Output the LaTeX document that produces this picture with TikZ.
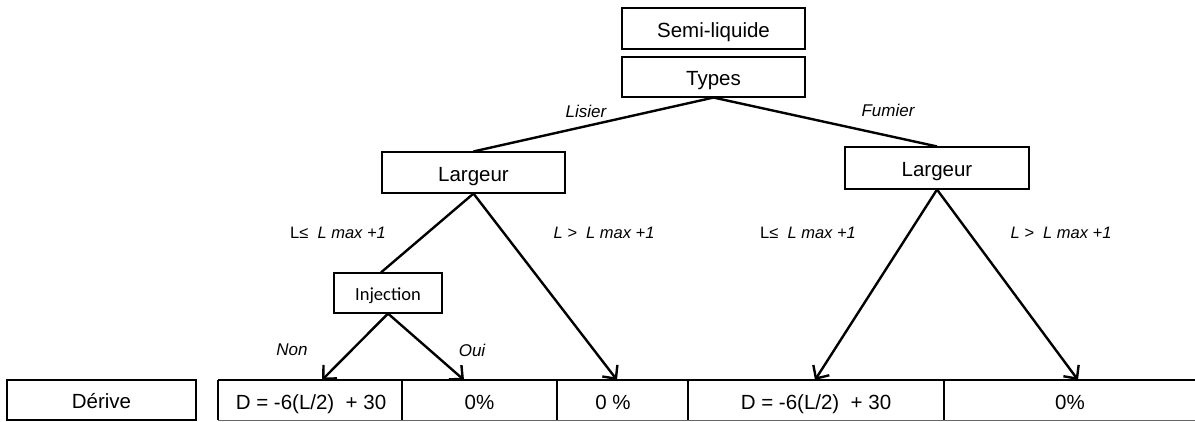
\documentclass[tikz,border=0pt]{standalone}
\usepackage{fontspec}
\setmainfont{Liberation Sans}
\newfontfamily\carl{Carlito}
\usetikzlibrary{arrows.meta,calc}
\begin{document}
\begin{tikzpicture}[x=1pt,y=-1pt,
  box/.style={draw,line width=1.1pt,inner sep=0pt,text height=17.5pt,text depth=0pt,font=\fontsize{20.5}{24}\selectfont},
  lbl/.style={inner sep=0pt,font=\fontsize{17}{20}\selectfont\itshape},
  clbl/.style={inner sep=0pt,font=\fontsize{16.5}{20}\selectfont},
  conn/.style={line width=2.4pt},
  arr/.style={line width=2.4pt,-{Straight Barb[length=10pt,width=19pt,line width=2.4pt]}},
  tline/.style={line width=1.3pt},
  cell/.style={inner sep=0pt,text height=17.5pt,text depth=0pt,font=\fontsize{20.5}{24}\selectfont}]
\useasboundingbox (0,0) rectangle (1195,421);
% boxes
\node[box,minimum width=183pt,minimum height=41pt] (semi) at (713.5,28.5) {Semi-liquide};
\node[box,minimum width=183pt,minimum height=40pt] (types) at (713.5,77) {Types};
\node[box,minimum width=183pt,minimum height=41pt] (larg1) at (473.5,172.5) {Largeur};
\node[box,minimum width=184pt,minimum height=42pt] (larg2) at (937,168) {Largeur};
\node[box,minimum width=108pt,minimum height=40pt,text height=14pt,font=\carl\fontsize{18.5}{22}\selectfont] (inj) at (388,293) {Injection};
\node[box,minimum width=189pt,minimum height=40pt] (derive) at (101.5,400) {Dérive};
% table
\coordinate (tl) at (218,380);
\coordinate (tr) at (1195,380);
\coordinate (bl) at (218,420);
\coordinate (br) at (1195,420);
\draw[tline] (tl) -- (tr);
\draw[line width=0.8pt,black!60] (bl) -- (br);
\foreach \x in {218,402,557,688,944}{\draw[tline] (\x,380) -- (\x,420);}
\node[cell] (c1) at (311,401) {D = -6(L/2)\ \ + 30};
\node[cell] (c2) at (479.5,401) {0\%};
\node[cell] (c3) at (613,401) {0 \%};
\node[cell] (c4) at (816,401) {D = -6(L/2)\ \ + 30};
\node[cell] (c5) at (1070,401) {0\%};
% arrow targets
\coordinate (tNon) at (322,380);
\coordinate (tOui) at (464,380);
\coordinate (tL1) at (617,380);
\coordinate (tL2a) at (815,380);
\coordinate (tL2b) at (1078,380);
% connectors
\draw[conn] (types.south) -- (larg1.north);
\draw[conn] (types.south) -- (larg2.north);
\draw[conn] (larg1.south) -- ($(inj.north)+(-7,0)$);
\draw[arr] (larg1.south) -- (tL1);
\draw[arr] (inj.south) -- (tNon);
\draw[arr] (inj.south) -- (tOui);
\draw[arr] (larg2.south) -- (tL2a);
\draw[arr] (larg2.south) -- (tL2b);
% labels
\node[lbl] (lis) at (586,111) {Lisier};
\node[lbl] (fum) at (888,110) {Fumier};
\node[clbl] (le1) at (338,233) {L≤\ \ \textit{L max +1}};
\node[clbl] (gt1) at (604,233) {\textit{L >\ \ L max +1}};
\node[clbl] (le2) at (808,233) {L≤\ \ \textit{L max +1}};
\node[clbl] (gt2) at (1061,233) {\textit{L >\ \ L max +1}};
\node[lbl] (non) at (292,350) {Non};
\node[lbl] (oui) at (472,350) {Oui};
\end{tikzpicture}
\end{document}
